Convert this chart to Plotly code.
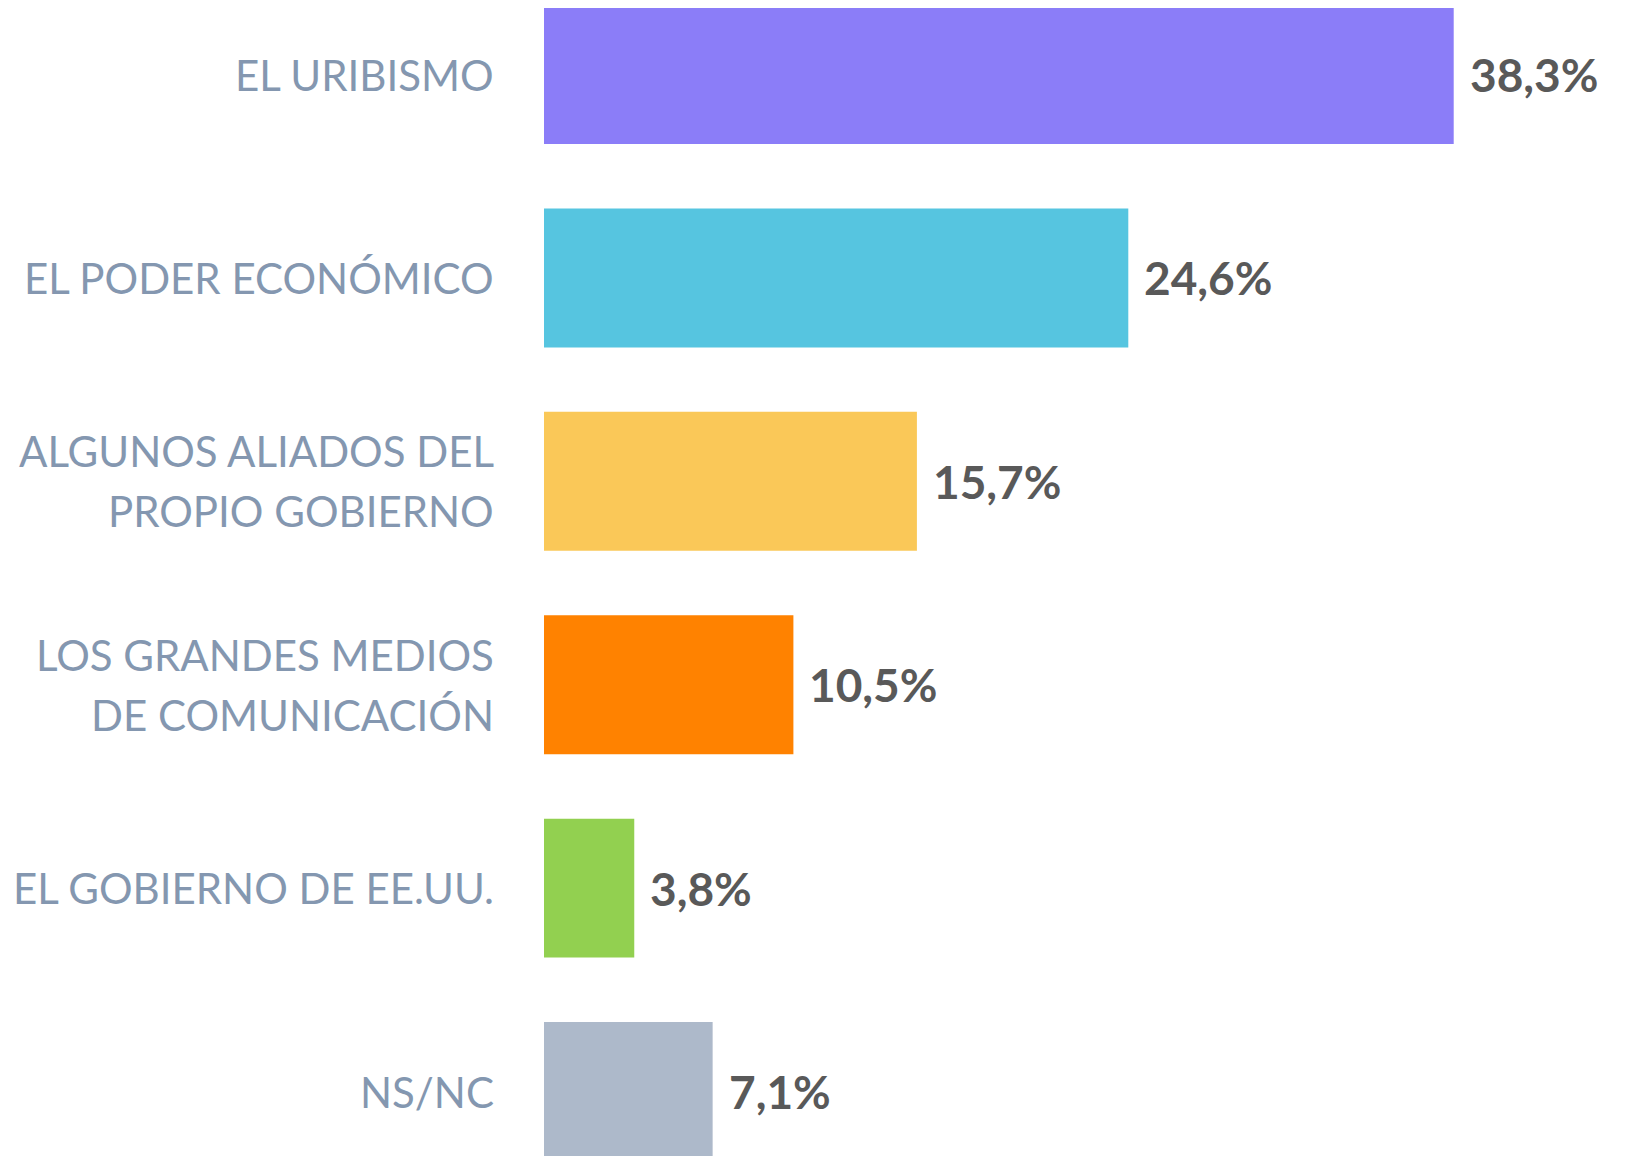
import plotly.graph_objects as go

categories = [
    "EL URIBISMO",
    "EL PODER ECONÓMICO",
    "ALGUNOS ALIADOS DEL<br>PROPIO GOBIERNO",
    "LOS GRANDES MEDIOS<br>DE COMUNICACIÓN",
    "EL GOBIERNO DE EE.UU.",
    "NS/NC",
]
values = [38.3, 24.6, 15.7, 10.5, 3.8, 7.1]
bar_colors = ["#8B7DF8", "#56C5E0", "#FAC858", "#FF8200", "#92D050", "#ADB9CA"]
value_labels = [f"{v:.1f}%".replace(".", ",") for v in values]

fig = go.Figure()
fig.add_trace(go.Bar(
    x=values,
    y=categories,
    orientation="h",
    marker=dict(color=bar_colors, line=dict(width=0)),
    width=0.683,
    hoverinfo="skip",
))

LINE_GAP = 60
for cat, v, lab in zip(categories, values, value_labels):
    fig.add_annotation(
        x=v, y=cat, xref="x", yref="y",
        text=lab, showarrow=False,
        xanchor="left", yanchor="middle", xshift=14,
        font=dict(family="Lato", size=46, color="#595959", weight="bold"),
    )
    lines = cat.split("<br>")
    n = len(lines)
    for k, line in enumerate(lines):
        fig.add_annotation(
            x=0, y=cat, xref="paper", yref="y",
            text=line, showarrow=False, align="right",
            xanchor="right", yanchor="middle", xshift=-48,
            yshift=((n - 1) / 2 - k) * LINE_GAP,
            font=dict(family="Lato", size=42, color="#8497B0"),
        )

fig.update_layout(
    width=1621, height=1148,
    margin=dict(l=536, r=0, t=0, b=0),
    paper_bgcolor="white", plot_bgcolor="white",
    showlegend=False,
    bargap=0.317,
    xaxis=dict(range=[0, 45.68], visible=False, showgrid=False, zeroline=False),
    yaxis=dict(range=[5.317, -0.327], type="category", showticklabels=False,
               showgrid=False, zeroline=False, ticks=""),
)

fig.write_html("out.html")
